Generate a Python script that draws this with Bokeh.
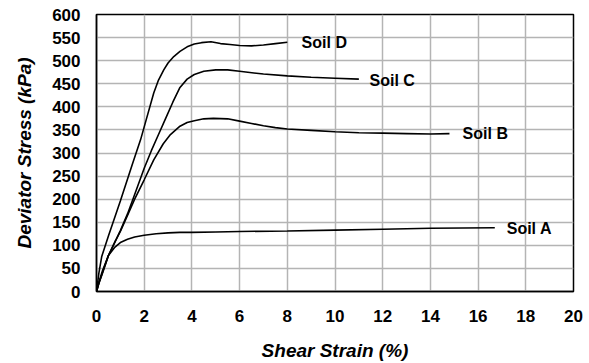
from bokeh.plotting import figure
from bokeh.models import Range1d, FixedTicker, ColumnDataSource
from bokeh.core.properties import value
from bokeh.embed import file_html
from bokeh.resources import INLINE

# Data
soil_a_x = [0, 0.1, 0.25, 0.5, 0.75, 1.0, 1.3, 1.6, 2.0, 2.5, 3.0, 3.5, 4.0, 5, 6, 8, 10, 12, 14, 16.7]
soil_a_y = [0, 20, 45, 78, 95, 106, 113, 118, 122, 125, 127, 128, 128, 129, 130, 131, 133, 135, 137, 138]

soil_b_x = [0, 0.1, 0.25, 0.5, 0.8, 1.0, 1.3, 1.6, 2.0, 2.4, 2.8, 3.1, 3.5, 3.8, 4.1, 4.5, 4.9, 5.5,
            6.0, 6.5, 7.0, 7.5, 8.0, 9, 10, 11, 12, 13, 14, 14.8]
soil_b_y = [0, 18, 40, 78, 110, 130, 165, 200, 242, 285, 320, 340, 358, 366, 370, 374, 375, 374,
            369, 364, 359, 355, 352, 349, 346, 344, 343, 342, 341, 342]

soil_c_x = [0, 0.1, 0.25, 0.5, 0.8, 1.0, 1.3, 1.6, 2.0, 2.3, 2.6, 2.9, 3.2, 3.5, 3.8, 4.1, 4.5, 5.0,
            5.5, 6.0, 7.0, 8.0, 9.0, 10.0, 11.0]
soil_c_y = [0, 18, 40, 78, 110, 132, 168, 210, 267, 305, 340, 375, 410, 442, 460, 470, 477, 480,
            480, 477, 471, 467, 464, 462, 460]

soil_d_x = [0, 0.1, 0.22, 0.5, 1.0, 1.5, 1.85, 2.1, 2.4, 2.6, 2.82, 3.0, 3.24, 3.5, 3.8, 4.1, 4.4,
            4.8, 5.2, 5.6, 6.0, 6.5, 7.0, 7.5, 8.0]
soil_d_y = [0, 40, 76, 120, 196, 275, 329, 375, 430, 458, 480, 495, 509, 520, 530, 536, 539,
            541, 537, 535, 533, 532, 534, 537, 540]

label_names = ["Soil D", "Soil C", "Soil B", "Soil A"]
label_x = [8.6, 11.45, 15.35, 17.2]
label_y = [540, 457, 342, 137]

x_ticks = list(range(0, 21, 2))
y_ticks = list(range(0, 601, 50))

FONT = "Liberation Sans"

p = figure(width=589, height=363, output_backend="svg", toolbar_location=None,
           x_range=Range1d(0, 20), y_range=Range1d(0, 600),
           min_border_left=96, min_border_right=16, min_border_top=14, min_border_bottom=10)

p.background_fill_color = "white"
p.border_fill_color = "white"
p.outline_line_color = "black"
p.outline_line_width = 1.5

for ax in (p.xaxis, p.yaxis):
    ax.major_tick_line_color = None
    ax.minor_tick_line_color = None
    ax.axis_line_color = "black"
    ax.axis_line_width = 1.5
    ax.major_label_text_font = FONT
    ax.major_label_text_font_style = "bold"
    ax.major_label_text_font_size = "17px"
    ax.major_label_text_color = "black"
    ax.axis_label_text_font = FONT
    ax.axis_label_text_font_style = "bold italic"
    ax.axis_label_text_font_size = "19px"
    ax.axis_label_text_color = "black"

p.xaxis.ticker = FixedTicker(ticks=x_ticks)
p.yaxis.ticker = FixedTicker(ticks=y_ticks)
p.xaxis.axis_label = "Shear Strain (%)"
p.yaxis.axis_label = "Deviator Stress (kPa)"
p.xaxis.major_label_standoff = 12
p.yaxis.major_label_standoff = 10
p.xaxis.axis_label_standoff = 15
p.yaxis.axis_label_standoff = 14

p.xgrid.ticker = FixedTicker(ticks=x_ticks)
p.ygrid.ticker = FixedTicker(ticks=y_ticks)
for g in (p.xgrid, p.ygrid):
    g.grid_line_color = "#b4b4b4"
    g.grid_line_width = 1.5

for xs, ys in [(soil_a_x, soil_a_y), (soil_b_x, soil_b_y), (soil_c_x, soil_c_y), (soil_d_x, soil_d_y)]:
    p.line(xs, ys, line_color="black", line_width=1.6)

src = ColumnDataSource(dict(x=label_x, y=label_y, t=label_names))
p.text(x="x", y="y", text="t", source=src, text_font=value(FONT), text_font_style="bold",
       text_font_size="16px", text_baseline="middle", text_align="left", text_color="black")

open("out.html", "w").write(file_html(p, INLINE))
